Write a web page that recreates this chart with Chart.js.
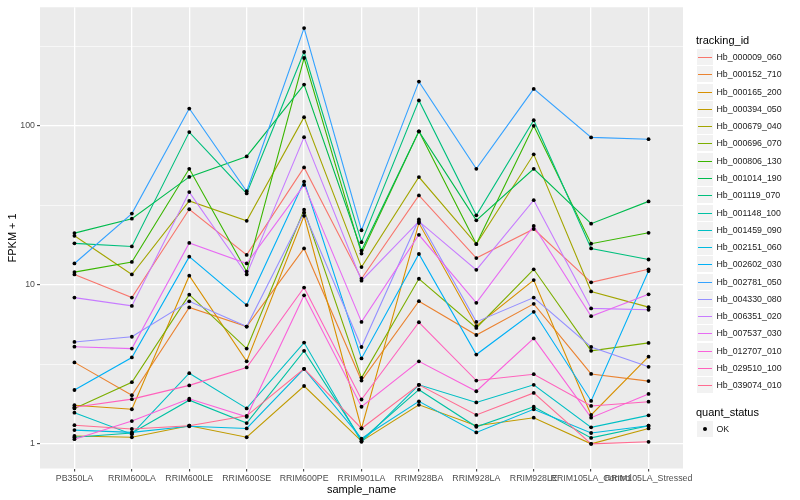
<!DOCTYPE html>
<html>
<head>
<meta charset="utf-8">
<script src="https://cdn.jsdelivr.net/npm/chart.js@4.4.0/dist/chart.umd.min.js"></script>
<style>
  body { margin: 0; background: #fff; font-family: "Liberation Sans", Arial, sans-serif; }
  #wrap { position: relative; width: 800px; height: 500px; }
  #chart { position: absolute; left: 0; top: 0; }
  .ttl { position: absolute; left: 696px; font-size: 11px; line-height: 13px; color: #000; white-space: nowrap; }
  .key { position: absolute; left: 697px; width: 16px; height: 16px; background: #F2F2F2; }
  .key span { position: absolute; left: 1px; right: 1px; top: 8px; height: 1px; }
  .key i { position: absolute; left: 6px; top: 6px; width: 4px; height: 4px; background: #000; border-radius: 50%; }
  .lab { position: absolute; left: 716.5px; font-size: 8.8px; line-height: 17px; color: #1a1a1a; white-space: nowrap; }
</style>
</head>
<body>
<div id="wrap">
  <canvas id="chart" width="800" height="500"></canvas>
  <div id="legend"></div>
</div>
<script>
// muestras (eje x)
const samples = ['PB350LA', 'RRIM600LA', 'RRIM600LE', 'RRIM600SE', 'RRIM600PE', 'RRIM901LA',
  'RRIM928BA', 'RRIM928LA', 'RRIM928LE', 'RRIM105LA_Control', 'RRIM105LA_Stressed'];

const trackingIds = ['Hb_000009_060', 'Hb_000152_710', 'Hb_000165_200', 'Hb_000394_050', 'Hb_000679_040',
  'Hb_000696_070', 'Hb_000806_130', 'Hb_001014_190', 'Hb_001119_070', 'Hb_001148_100',
  'Hb_001459_090', 'Hb_002151_060', 'Hb_002602_030', 'Hb_002781_050', 'Hb_004330_080',
  'Hb_006351_020', 'Hb_007537_030', 'Hb_012707_010', 'Hb_029510_100', 'Hb_039074_010'];

const colors = ['#F8766D', '#EA8331', '#D89000', '#C09B00', '#A3A500', '#7CAE00', '#39B600', '#00BB4E',
  '#00BF7D', '#00C1A3', '#00BFC4', '#00BAE0', '#00B0F6', '#35A2FF', '#9590FF', '#C77CFF',
  '#E76BF3', '#FA62DB', '#FF62BC', '#FF6C91'];

// FPKM + 1 por gen
const hb_000009_060 = [11.6, 8.3, 29.8, 15.4, 54.6, 10.9, 36.4, 14.7, 22.4, 10.35, 12.5];
const hb_000152_710 = [3.25, 2.02, 7.2, 5.46, 16.9, 2.5, 7.88, 4.83, 7.58, 2.75, 2.48];
const hb_000165_200 = [1.75, 1.65, 11.4, 3.3, 27.1, 1.25, 24.4, 5.5, 10.7, 1.52, 3.53];
const hb_000394_050 = [1.12, 1.1, 1.3, 1.1, 2.31, 1.04, 1.76, 1.3, 1.46, 1.0, 1.25];
const hb_000679_040 = [20.3, 11.6, 33.6, 25.2, 113, 12.9, 47.5, 18.0, 66, 9.07, 7.23];
const hb_000696_070 = [1.67, 2.44, 8.66, 3.97, 29.6, 2.6, 10.9, 5.35, 12.5, 3.84, 4.31];
const hb_000806_130 = [12.0, 13.9, 53.5, 12.1, 266, 15.7, 92, 18.0, 99.6, 18.1, 21.2];
const hb_001014_190 = [21.1, 26, 47.6, 64, 181, 16.4, 92, 25.4, 53.5, 24.2, 33.4];
const hb_001119_070 = [18.2, 17.4, 91, 37.5, 290, 18.5, 144, 27.3, 108, 16.9, 14.4];
const hb_001148_100 = [1.1, 1.17, 1.88, 1.35, 3.84, 1.06, 2.19, 1.28, 1.71, 1.09, 1.3];
const hb_001459_090 = [1.57, 1.15, 2.78, 1.67, 4.33, 1.03, 2.35, 1.82, 2.35, 1.27, 1.51];
const hb_002151_060 = [1.22, 1.18, 1.29, 1.25, 2.96, 1.08, 1.85, 1.18, 1.65, 1.17, 1.3];
const hb_002602_030 = [2.18, 3.49, 15.0, 7.45, 44.5, 3.44, 15.6, 3.64, 6.76, 1.86, 12.2];
const hb_002781_050 = [13.6, 28, 128, 38.7, 410, 22, 189, 53.5, 170, 84.3, 82.1];
const hb_004330_080 = [4.37, 4.71, 7.86, 5.46, 28.4, 4.06, 25.7, 5.84, 8.3, 4.06, 3.05];
const hb_006351_020 = [8.3, 7.36, 38.2, 11.6, 84.6, 10.6, 25.0, 12.4, 34.0, 7.1, 6.96];
const hb_007537_030 = [4.08, 3.97, 18.3, 13.6, 42.4, 5.84, 20.6, 7.7, 23.4, 6.34, 8.7];
const hb_012707_010 = [1.07, 1.39, 1.92, 1.48, 8.58, 1.71, 3.3, 2.14, 4.6, 1.46, 2.06];
const hb_029510_100 = [1.7, 1.91, 2.33, 3.02, 9.6, 1.9, 5.81, 2.5, 2.74, 1.73, 1.84];
const hb_039074_010 = [1.31, 1.24, 1.3, 1.5, 2.96, 1.25, 2.35, 1.52, 2.09, 1.0, 1.03];

const seriesValues = [hb_000009_060, hb_000152_710, hb_000165_200, hb_000394_050, hb_000679_040,
  hb_000696_070, hb_000806_130, hb_001014_190, hb_001119_070, hb_001148_100,
  hb_001459_090, hb_002151_060, hb_002602_030, hb_002781_050, hb_004330_080,
  hb_006351_020, hb_007537_030, hb_012707_010, hb_029510_100, hb_039074_010];

const yMajor = [1, 10, 100];
const yMinor = [3.1623, 31.623, 316.23];

const fam = '"Liberation Sans", Arial, sans-serif';

// fondo gris del panel
const panelBg = {
  id: 'panelBg',
  beforeDraw(chart) {
    const { ctx, chartArea: a } = chart;
    ctx.save();
    ctx.fillStyle = '#EBEBEB';
    ctx.fillRect(a.left, a.top, a.right - a.left, a.bottom - a.top);
    ctx.restore();
  }
};

const datasets = [];
// puntos negros encima de todo
const allPoints = [];
seriesValues.forEach(vals => vals.forEach((v, i) => allPoints.push({ x: i, y: v })));
datasets.push({
  type: 'scatter', data: allPoints, pointRadius: 1.9, pointBackgroundColor: '#000',
  pointBorderWidth: 0, showLine: false, order: 0
});
seriesValues.forEach((vals, k) => {
  datasets.push({
    label: trackingIds[k],
    data: vals.map((v, i) => ({ x: i, y: v })),
    borderColor: colors[k], borderWidth: 1.1, pointRadius: 0, tension: 0, fill: false,
    order: seriesValues.length - k
  });
});

const isMajor = v => yMajor.some(m => Math.abs(m - v) < 1e-6);

new Chart(document.getElementById('chart'), {
  type: 'line',
  data: { datasets },
  options: {
    responsive: false,
    animation: false,
    layout: { padding: { left: 0, right: 117, top: 5, bottom: 0 } },
    plugins: { legend: { display: false }, tooltip: { enabled: false } },
    scales: {
      x: {
        type: 'linear', min: -0.6, max: 10.6,
        afterBuildTicks: ax => { ax.ticks = samples.map((s, i) => ({ value: i })); },
        afterFit: ax => { ax.height = 31.5; },
        ticks: {
          autoSkip: false, maxRotation: 0, minRotation: 0, padding: 2,
          color: '#4D4D4D', font: { size: 8.8, family: fam },
          callback: v => samples[v]
        },
        grid: { color: '#FFFFFF', lineWidth: 1.3, tickLength: 3, tickColor: '#333333', tickWidth: 1 },
        border: { display: false },
        title: { display: true, text: 'sample_name', color: '#000', font: { size: 11, family: fam },
          padding: { top: 0, bottom: 3.4 } }
      },
      y: {
        type: 'logarithmic', min: 0.74, max: 554,
        afterBuildTicks: ax => {
          ax.ticks = yMajor.concat(yMinor).sort((a, b) => a - b).map(v => ({ value: v }));
        },
        afterFit: ax => { ax.width = 40; },
        ticks: {
          autoSkip: false, padding: 2, color: '#4D4D4D', font: { size: 8.8, family: fam },
          callback: v => (isMajor(v) ? String(v) : '')
        },
        grid: {
          color: '#FFFFFF',
          lineWidth: c => (c.tick && isMajor(c.tick.value) ? 1.3 : 0.6),
          tickLength: 3,
          tickColor: c => (c.tick && isMajor(c.tick.value) ? '#333333' : 'rgba(0,0,0,0)'),
          tickWidth: 1
        },
        border: { display: false },
        title: { display: true, text: 'FPKM + 1', color: '#000', font: { size: 11, family: fam },
          padding: { top: 6.5, bottom: 0 } }
      }
    }
  },
  plugins: [panelBg]
});

// leyenda
let html = '<div class="ttl" style="top:33.5px">tracking_id</div>';
trackingIds.forEach((id, i) => {
  const top = Math.round(49 + i * 17.28);
  html += `<div class="key" style="top:${top}px"><span style="background:${colors[i]}"></span></div>`;
  html += `<div class="lab" style="top:${top}px">${id}</div>`;
});
html += '<div class="ttl" style="top:405.5px">quant_status</div>';
html += '<div class="key" style="top:421px"><i></i></div>';
html += '<div class="lab" style="top:421px">OK</div>';
document.getElementById('legend').innerHTML = html;
</script>
</body>
</html>
